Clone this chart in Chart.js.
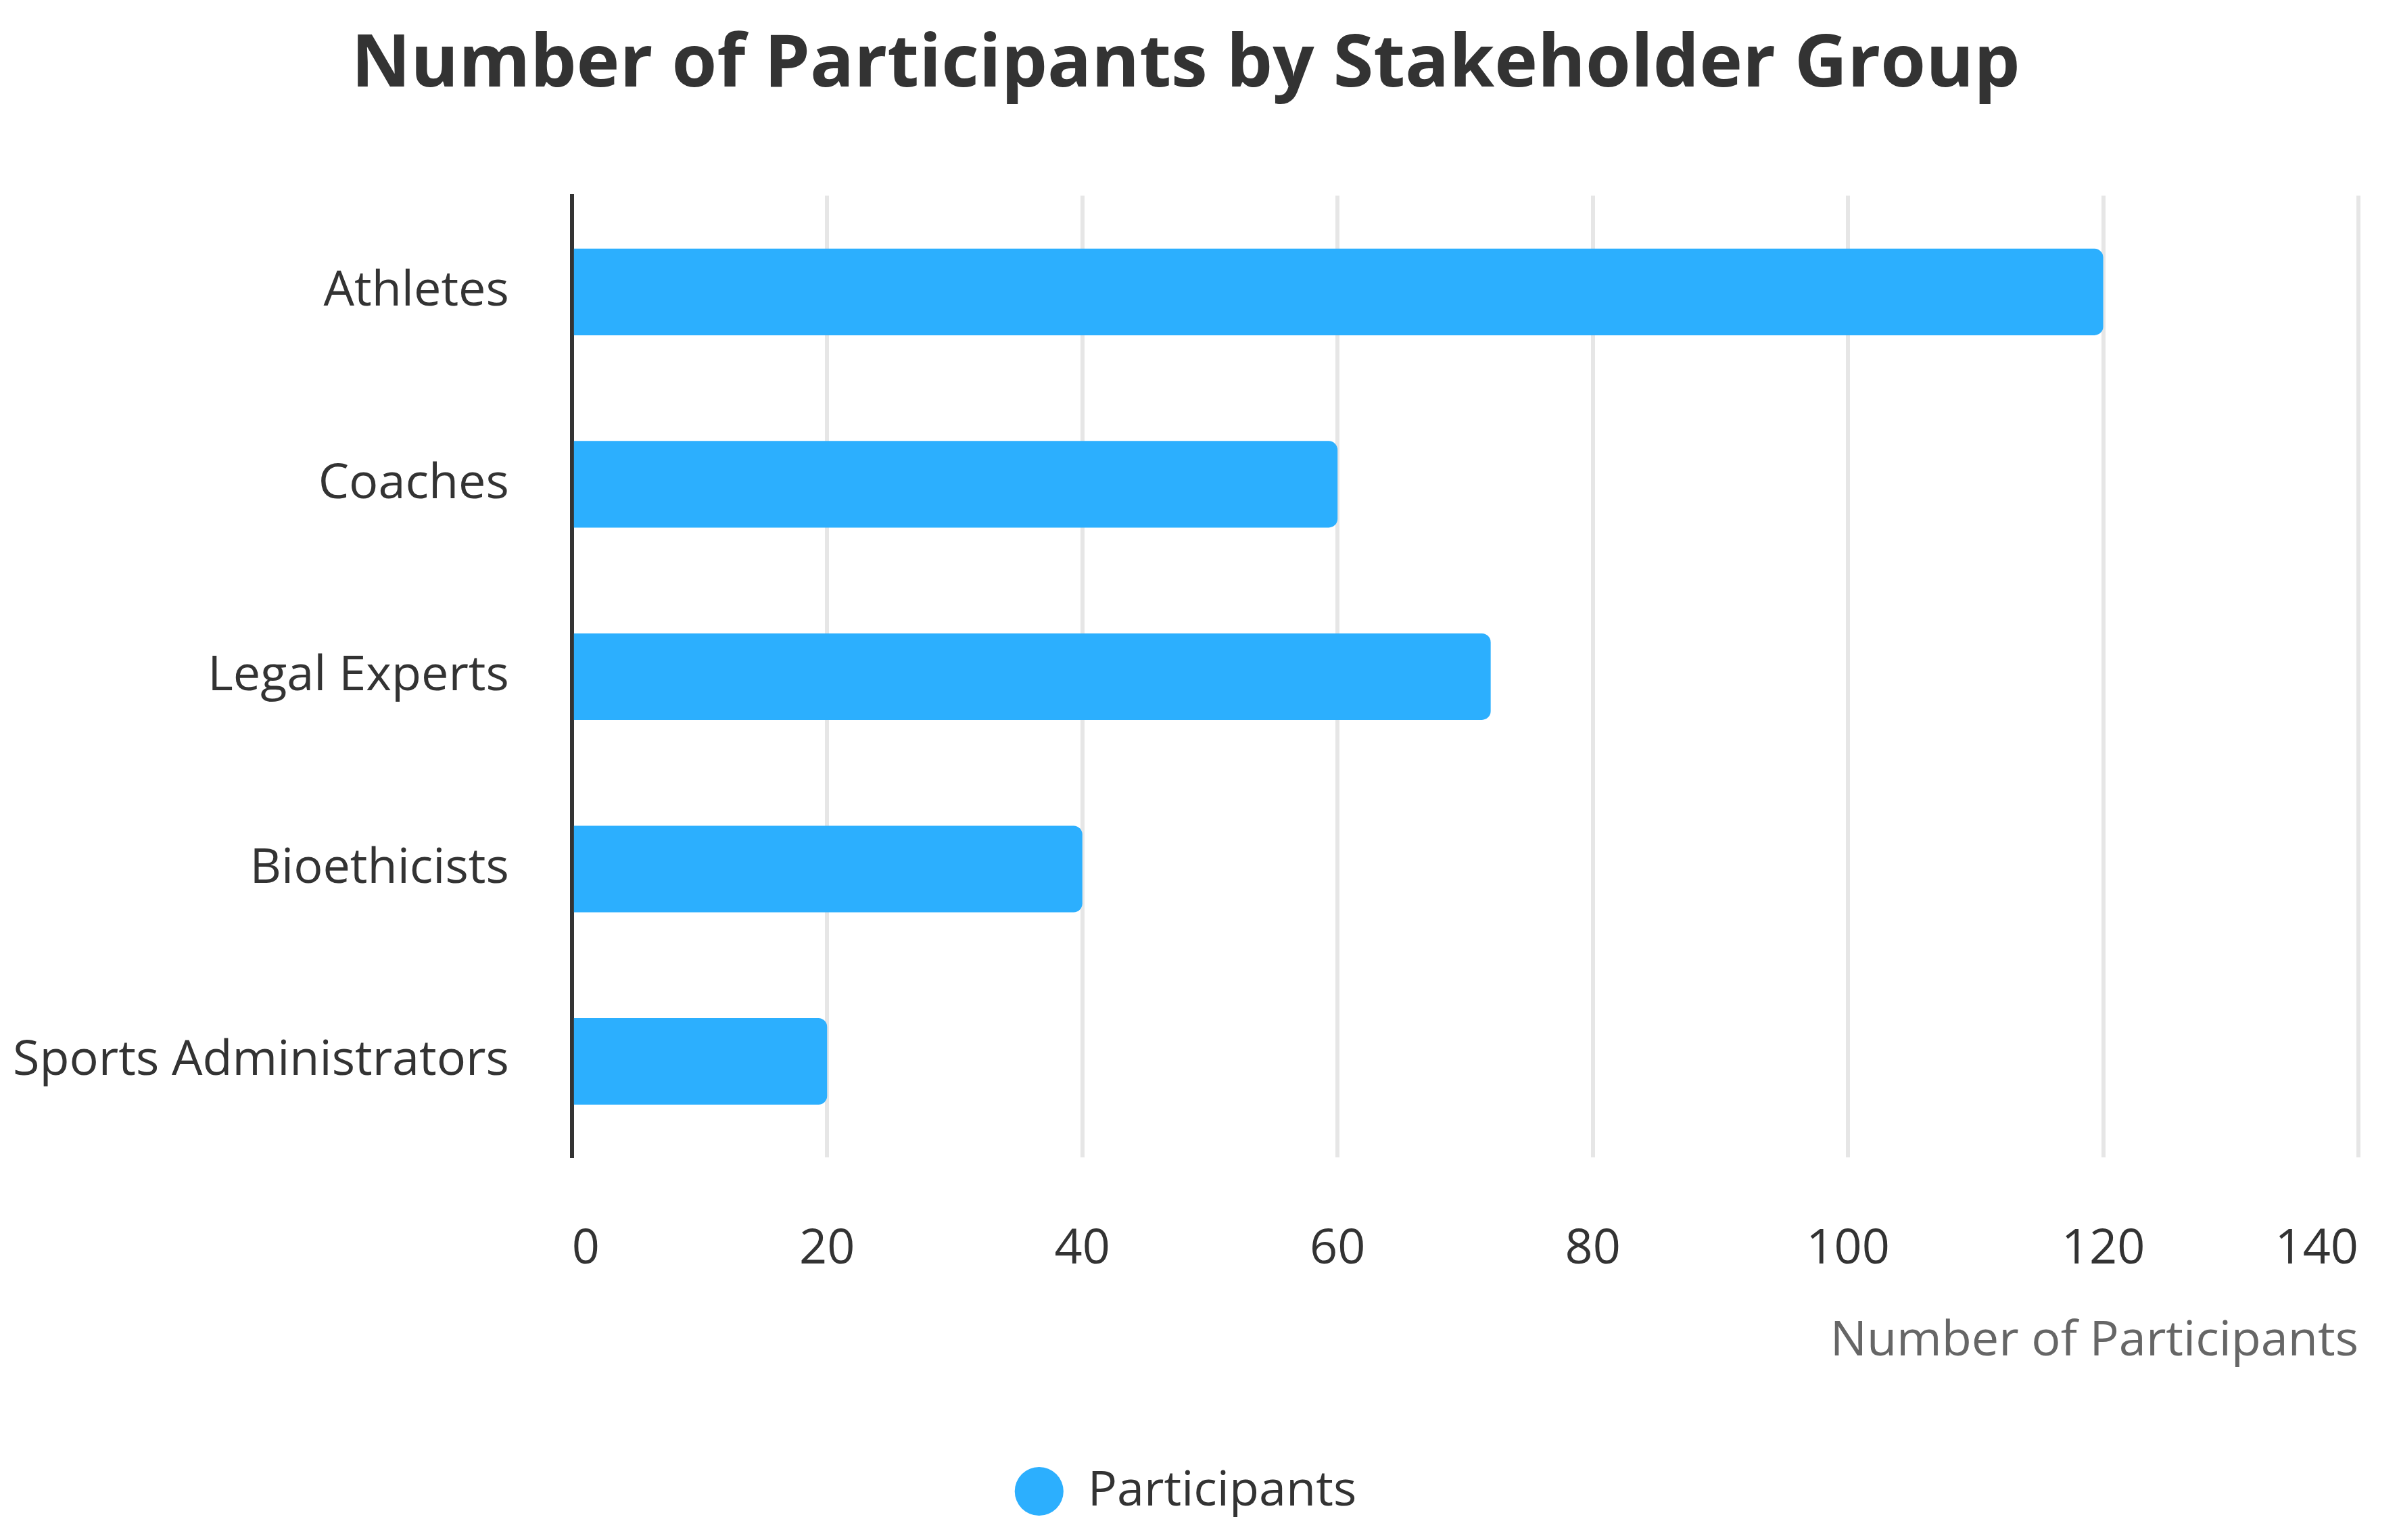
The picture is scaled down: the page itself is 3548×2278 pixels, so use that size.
<!DOCTYPE html>
<html>
<head>
<meta charset="utf-8">
<title>Number of Participants by Stakeholder Group</title>
<script src="https://cdn.jsdelivr.net/npm/chart.js@4"></script>
<style>
  html, body { margin: 0; padding: 0; background: #ffffff; }
  #chart { display: block; }
</style>
</head>
<body>
<canvas id="chart" width="3548" height="2278"></canvas>
<script>
// Data
const groups = ['Athletes', 'Coaches', 'Legal Experts', 'Bioethicists', 'Sports Administrators'];
const participants = [120, 60, 72, 40, 20];
const seriesName = 'Participants';
const axisTitle = 'Number of Participants';
const chartTitle = 'Number of Participants by Stakeholder Group';

const FONT = '"Open Sans", "Noto Sans", sans-serif';
const BLUE = '#2caffe';
const CLEAR = 'rgba(0,0,0,0)';

const ctx = document.getElementById('chart').getContext('2d');

new Chart(ctx, {
  type: 'bar',
  data: {
    labels: groups,
    datasets: [{
      label: seriesName,
      data: participants,
      backgroundColor: BLUE,
      borderRadius: 13,
      categoryPercentage: 0.5,
      barPercentage: 0.9
    }]
  },
  options: {
    indexAxis: 'y',
    responsive: false,
    animation: false,
    layout: { padding: { left: 19, right: 60, top: 32, bottom: 26 } },
    plugins: {
      title: {
        display: true,
        text: chartTitle,
        color: '#333333',
        font: { family: FONT, size: 108, weight: 'bold' },
        padding: { top: 0, bottom: 128 }
      },
      legend: {
        position: 'bottom',
        labels: {
          usePointStyle: true,
          pointStyle: 'circle',
          boxWidth: 72,
          boxHeight: 51,
          color: '#333333',
          font: { family: FONT, size: 72 },
          padding: 30
        }
      },
      tooltip: { enabled: false }
    },
    scales: {
      x: {
        min: 0,
        max: 140,
        ticks: {
          stepSize: 20,
          align: 'inner',
          color: '#333333',
          padding: 2,
          font: { family: FONT, size: 72 }
        },
        grid: { color: '#e6e6e6', lineWidth: 6, drawTicks: true, tickLength: 91, tickColor: CLEAR },
        border: { display: false },
        title: {
          display: true,
          text: axisTitle,
          align: 'end',
          color: '#666666',
          font: { family: FONT, size: 72 },
          padding: { top: 48, bottom: 112 }
        }
      },
      y: {
        ticks: {
          color: '#333333',
          padding: 0,
          font: { family: FONT, size: 72 }
        },
        grid: { display: true, color: CLEAR, drawOnChartArea: false, drawTicks: true, tickLength: 93, tickColor: CLEAR },
        border: { display: true, color: '#333333', width: 6 }
      }
    }
  }
});
</script>
</body>
</html>
